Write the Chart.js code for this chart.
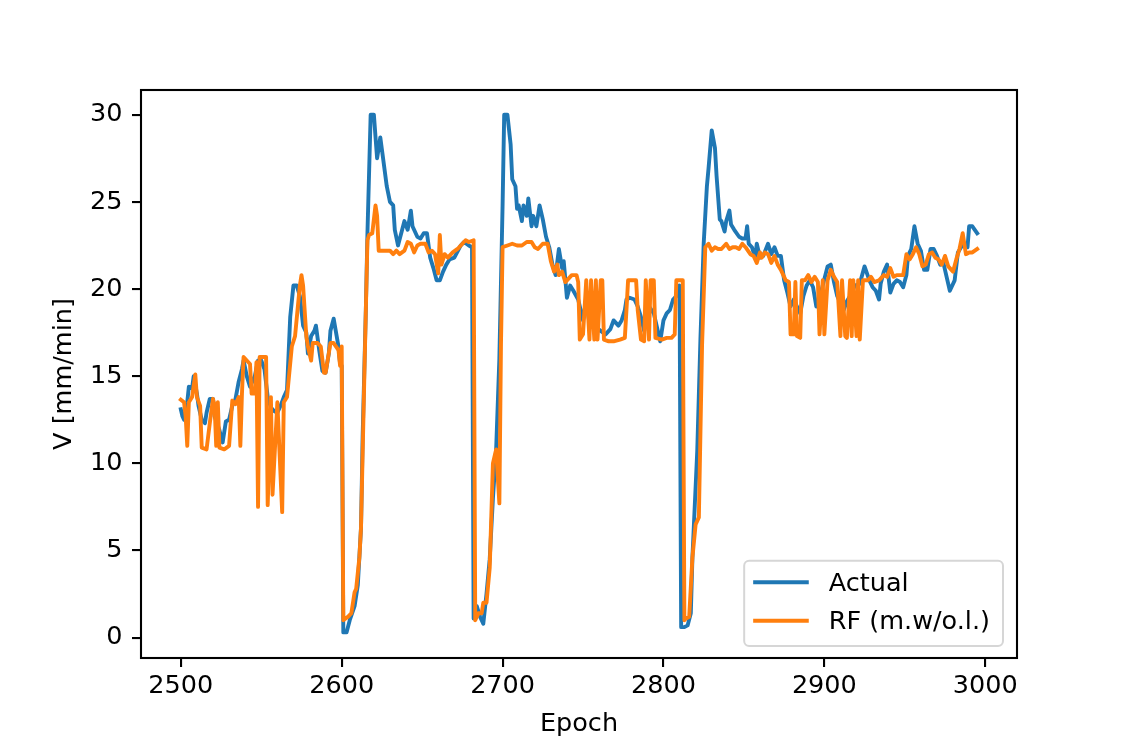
<!DOCTYPE html>
<html>
<head>
<meta charset="utf-8">
<title>Actual vs RF</title>
<script src="https://cdn.jsdelivr.net/npm/chart.js"></script>
<style>
  html, body { margin: 0; padding: 0; background: #fff; }
  #wrap { width: 1129px; height: 753px; }
</style>
</head>
<body>
<div id="wrap"><canvas id="line-chart" width="1129" height="753"></canvas></div>
<script>
var actualEpochs = [2500,2501,2502,2504,2505,2507,2508,2510,2511,2513,2515,2516,2518,2520,2521,2524,2526,2528,2530,2532,
  2534,2536,2538,2539,2541,2543,2546,2548,2550,2552,2554,2556,2558,2560,2562,2564,2566,2568,2570,2572,
  2574,2576,2578,2579,2581,2583,2584,2586,2588,2590,2592,2593,2595,2598,2599,2600,2601,2603,2605,2608,
  2610,2612,2613,2615,2616,2618,2620,2622,2624,2626,2628,2630,2632,2633,2635,2637,2639,2641,2643,2644,
  2647,2649,2651,2653,2655,2657,2659,2661,2663,2665,2667,2670,2674,2676,2679,2681,2682,2684,2686,2688,
  2690,2692,2694,2696,2698,2700,2701,2703,2705,2706,2708,2709,2710,2712,2713,2715,2716,2718,2719,2721,
  2723,2725,2727,2729,2731,2733,2735,2737,2738,2740,2742,2744,2747,2750,2752,2754,2756,2758,2761,2764,
  2767,2769,2772,2774,2776,2777,2779,2782,2784,2786,2788,2789,2791,2794,2796,2798,2800,2802,2804,2806,
  2808,2810,2811,2813,2815,2817,2818,2821,2823,2825,2827,2828,2830,2832,2833,2835,2836,2838,2839,2841,
  2842,2844,2847,2849,2851,2852,2853,2855,2857,2858,2860,2862,2865,2867,2869,2871,2873,2875,2877,2879,
  2881,2883,2885,2887,2889,2891,2893,2895,2897,2899,2902,2904,2906,2908,2910,2912,2914,2916,2919,2922,
  2925,2928,2930,2932,2934,2935,2937,2939,2941,2943,2945,2947,2949,2951,2952,2954,2956,2958,2960,2962,
  2964,2966,2968,2970,2972,2974,2976,2978,2981,2983,2985,2987,2989,2990,2992,2995];
var actualValues = [13.1,12.7,12.5,13.5,14.4,14.3,15.0,14.0,13.3,12.5,12.3,12.9,13.7,13.7,12.7,11.9,11.2,12.4,12.5,13.3,
  13.7,14.7,15.4,15.9,15.0,14.4,15.0,15.9,15.9,15.4,13.8,13.2,13.0,12.9,13.3,13.8,14.2,18.4,20.2,20.2,
  19.6,17.9,17.5,16.3,17.3,17.6,17.9,16.5,15.3,15.2,16.3,17.6,18.3,16.7,15.7,15.6,0.3,0.3,1.0,1.8,
  3.0,6.3,11.5,18.8,23.2,30.0,30.0,27.5,28.7,27.3,25.9,25.0,24.8,23.4,22.5,23.2,23.9,23.4,24.5,23.6,
  23.0,22.9,23.2,23.2,21.8,21.2,20.5,20.5,21.0,21.4,21.7,21.8,22.5,22.7,22.5,22.4,1.1,1.8,1.2,0.8,
  2.5,4.5,8.0,10.8,16.0,24.8,30.0,30.0,28.3,26.3,25.9,24.6,24.8,23.9,24.8,24.2,25.2,23.6,24.2,23.6,
  24.8,24.0,23.0,22.4,21.4,20.8,22.3,21.2,21.6,19.5,20.2,19.9,19.4,18.2,19.4,18.0,18.4,17.8,17.6,17.4,
  17.7,18.2,17.9,18.2,18.8,19.4,19.5,19.4,19.0,18.4,17.6,18.6,19.0,18.6,17.8,17.0,18.2,18.6,18.8,19.4,
  19.6,20.2,0.6,0.6,0.7,1.4,4.6,10.7,17.2,22.6,25.9,26.9,29.1,28.1,26.5,24.0,23.9,23.3,23.9,24.5,
  23.7,23.4,23.0,22.9,22.9,23.6,22.6,22.4,21.8,22.6,21.8,21.9,22.6,22.0,22.4,21.9,21.9,20.5,19.8,19.0,
  19.4,19.0,18.6,19.6,20.2,20.5,20.1,19.0,19.4,20.2,21.3,21.4,20.4,19.6,19.2,18.8,19.3,19.6,20.2,20.3,
  21.3,20.5,20.1,19.9,19.4,20.3,21.0,21.4,19.8,20.3,20.5,20.4,20.1,20.8,21.9,22.3,23.6,22.6,22.2,21.1,
  21.1,22.3,22.3,21.9,21.4,21.5,20.7,19.9,20.5,22.1,22.4,22.6,22.4,23.6,23.6,23.2];

var rfEpochs = [2500,2502,2503,2504,2505,2507,2509,2510,2512,2513,2516,2518,2520,2521,2522,2523,2524,2527,2530,2532,
  2534,2536,2537,2538,2539,2541,2543,2544,2546,2547,2548,2549,2553,2554,2556,2557,2560,2563,2564,2566,
  2569,2571,2574,2575,2576,2578,2579,2581,2582,2585,2587,2589,2590,2593,2595,2598,2599,2600,2601,2604,
  2606,2608,2609,2611,2612,2614,2616,2617,2619,2621,2622,2623,2627,2630,2632,2634,2636,2639,2641,2643,
  2645,2647,2649,2652,2654,2656,2658,2660,2661,2662,2664,2666,2669,2672,2674,2677,2679,2682,2683,2685,
  2687,2688,2690,2692,2694,2696,2698,2699,2700,2703,2706,2709,2712,2715,2718,2720,2722,2725,2728,2730,
  2732,2734,2735,2737,2739,2741,2743,2746,2747,2748,2750,2752,2754,2755,2757,2758,2759,2761,2762,2763,
  2766,2769,2773,2776,2777,2778,2783,2784,2786,2788,2789,2791,2792,2794,2795,2799,2802,2805,2807,2808,
  2812,2813,2814,2816,2818,2820,2822,2824,2826,2828,2830,2832,2834,2836,2838,2839,2841,2843,2845,2847,
  2849,2851,2854,2856,2858,2860,2861,2863,2865,2867,2869,2871,2873,2876,2878,2879,2881,2882,2883,2885,
  2886,2888,2890,2892,2894,2896,2897,2899,2900,2902,2904,2906,2908,2910,2911,2913,2914,2916,2917,2918,
  2920,2921,2922,2924,2927,2929,2931,2934,2937,2939,2941,2943,2945,2947,2949,2951,2953,2955,2957,2959,
  2961,2963,2965,2967,2969,2971,2973,2975,2977,2980,2982,2984,2986,2988,2990,2992,2995];
var rfValues = [13.65,13.5,12.7,11.0,13.5,13.8,15.1,13.8,13.3,10.9,10.8,12.3,13.7,13.3,11.0,13.5,10.9,10.8,11.0,13.6,
  13.4,13.8,11.0,14.0,16.1,15.9,15.7,14.0,14.0,15.8,7.5,16.1,16.1,7.6,13.8,8.2,13.5,7.2,13.5,13.8,
  16.7,17.3,20.2,20.8,20.2,17.3,16.7,15.9,16.9,16.9,16.7,15.2,15.2,16.9,16.9,16.5,15.6,16.7,1.0,1.2,
  1.4,2.6,2.8,4.6,6.3,14.7,22.8,23.1,23.2,24.8,24.2,22.2,22.2,22.2,22.0,22.2,22.0,22.2,22.7,22.6,
  22.1,22.5,22.6,22.6,22.1,22.2,22.0,20.9,23.1,21.4,22.0,21.8,22.1,22.3,22.5,22.8,22.7,22.8,1.0,1.4,
  1.4,2.0,2.0,4.0,10.0,10.8,7.7,16.8,22.4,22.5,22.6,22.5,22.5,22.7,22.7,22.4,22.3,22.6,22.6,21.6,
  21.0,21.4,20.8,21.0,20.4,20.6,20.8,20.8,20.4,17.1,17.4,20.5,17.1,20.5,17.1,20.5,17.1,20.5,20.5,17.1,
  17.0,17.0,17.1,17.2,18.8,20.5,20.5,18.8,17.1,17.0,20.5,17.1,20.5,20.5,17.2,17.1,17.2,17.2,17.4,20.5,
  20.5,1.0,1.1,1.2,4.6,6.5,6.9,16.8,22.4,22.6,22.2,22.4,22.3,22.3,22.5,22.6,22.3,22.4,22.4,22.3,
  22.6,22.4,22.0,21.9,21.5,22.1,21.8,22.1,22.0,21.5,21.9,21.4,21.1,20.5,20.4,17.4,17.4,20.4,17.3,17.2,
  20.5,20.5,20.8,20.4,20.7,20.4,17.4,20.5,17.4,20.5,21.1,20.7,20.4,17.3,20.5,17.3,17.2,20.5,17.3,20.5,
  17.3,20.5,17.1,20.5,20.5,20.7,20.4,20.5,20.8,20.7,21.2,20.7,20.8,20.8,20.8,22.0,21.7,22.0,22.4,22.0,
  21.3,21.4,22.0,22.1,21.8,21.7,21.4,21.9,21.3,21.0,21.7,22.3,23.2,22.0,22.1,22.1,22.3];

var xTicks = [2500, 2600, 2700, 2800, 2900, 3000];
var yTicks = [0, 5, 10, 15, 20, 25, 30];
var seriesNames = ["Actual", "RF (m.w/o.l.)"];
var seriesColors = ["#1f77b4", "#ff7f0e"];

var fontFamily = "DejaVu Sans";
var fontSize = 25.5;

function toPoints(xs, ys) {
  var pts = [];
  for (var i = 0; i < xs.length; i++) {
    pts.push({x: xs[i], y: ys[i]});
  }
  return pts;
}

function roundBox(ctx, x, y, w, h, r) {
  ctx.beginPath();
  ctx.moveTo(x + r, y);
  ctx.arcTo(x + w, y, x + w, y + h, r);
  ctx.arcTo(x + w, y + h, x, y + h, r);
  ctx.arcTo(x, y + h, x, y, r);
  ctx.arcTo(x, y, x + w, y, r);
  ctx.closePath();
}

// black frame round the plot area
var framePlugin = {
  id: 'frame',
  afterDraw: function(chart) {
    var a = chart.chartArea;
    var ctx = chart.ctx;
    ctx.save();
    ctx.strokeStyle = '#000';
    ctx.lineWidth = 2.1;
    ctx.strokeRect(a.left, a.top, a.right - a.left, a.bottom - a.top);
    ctx.restore();
  }
};

// legend box in the lower right corner of the plot
var legendPlugin = {
  id: 'cornerLegend',
  afterDraw: function(chart) {
    var a = chart.chartArea;
    var ctx = chart.ctx;
    ctx.save();
    ctx.font = fontSize + 'px "' + fontFamily + '"';
    var textW = 0;
    for (var i = 0; i < seriesNames.length; i++) {
      textW = Math.max(textW, ctx.measureText(seriesNames[i]).width);
    }
    var padL = 9, handle = 55.6, gap = 20, padR = 13, rowH = 38.4;
    var w = padL + handle + gap + textW + padR;
    var h = 21.6 + rowH * (seriesNames.length - 1) + 25.3;
    var right = a.right - 14, bottom = a.bottom - 12;
    var left = right - w, top = bottom - h;

    roundBox(ctx, left, top, w, h, 5);
    ctx.fillStyle = 'rgba(255,255,255,0.8)';
    ctx.fill();
    ctx.lineWidth = 2;
    ctx.strokeStyle = 'rgba(204,204,204,0.8)';
    ctx.stroke();

    for (var j = 0; j < seriesNames.length; j++) {
      var y = top + 21.6 + j * rowH;
      ctx.beginPath();
      ctx.moveTo(left + padL, y);
      ctx.lineTo(left + padL + handle, y);
      ctx.strokeStyle = seriesColors[j];
      ctx.lineWidth = 3.9;
      ctx.lineCap = 'butt';
      ctx.stroke();
      ctx.fillStyle = '#000';
      ctx.textBaseline = 'alphabetic';
      ctx.textAlign = 'left';
      ctx.fillText(seriesNames[j], left + padL + handle + gap, y + 8.5);
    }
    ctx.restore();
  }
};

var tickFont = {family: fontFamily, size: fontSize};

new Chart(document.getElementById("line-chart"), {
  type: 'line',
  data: {
    datasets: [
      {
        label: seriesNames[0],
        data: toPoints(actualEpochs, actualValues),
        borderColor: seriesColors[0],
        backgroundColor: seriesColors[0],
        order: 2
      },
      {
        label: seriesNames[1],
        data: toPoints(rfEpochs, rfValues),
        borderColor: seriesColors[1],
        backgroundColor: seriesColors[1],
        order: 1
      }
    ]
  },
  options: {
    responsive: false,
    animation: false,
    devicePixelRatio: 1,
    layout: { padding: { left: 0, right: 112, top: 90, bottom: 0 } },
    elements: {
      point: { radius: 0, hoverRadius: 0 },
      line: { borderWidth: 3.9, tension: 0, borderJoinStyle: 'round', borderCapStyle: 'square', fill: false }
    },
    plugins: {
      legend: { display: false },
      tooltip: { enabled: false }
    },
    events: [],
    scales: {
      x: {
        type: 'linear',
        min: 2475.25,
        max: 3019.75,
        border: { display: false },
        grid: { drawOnChartArea: false, drawTicks: true, tickLength: 9, color: '#000', lineWidth: 2.1 },
        ticks: {
          font: tickFont,
          color: '#000',
          padding: 4.5,
          maxRotation: 0,
          callback: function(v) { return String(v); }
        },
        title: {
          display: true,
          text: 'Epoch',
          color: '#000',
          font: tickFont,
          padding: { top: 0, bottom: 13.8 }
        },
        afterBuildTicks: function(scale) {
          scale.ticks = xTicks.map(function(v) { return {value: v}; });
        },
        afterFit: function(scale) { scale.height = 95; }
      },
      y: {
        type: 'linear',
        min: -1.17,
        max: 31.42,
        border: { display: false },
        grid: { drawOnChartArea: false, drawTicks: true, tickLength: 9, color: '#000', lineWidth: 2.1 },
        ticks: {
          font: tickFont,
          color: '#000',
          padding: 9.5,
          callback: function(v) { return String(v); }
        },
        title: {
          display: true,
          text: 'V [mm/min]',
          color: '#000',
          font: tickFont,
          padding: { top: 49.2, bottom: 0 }
        },
        afterBuildTicks: function(scale) {
          scale.ticks = yTicks.map(function(v) { return {value: v}; });
        },
        afterFit: function(scale) { scale.width = 141; }
      }
    }
  },
  plugins: [framePlugin, legendPlugin]
});
</script>
</body>
</html>
